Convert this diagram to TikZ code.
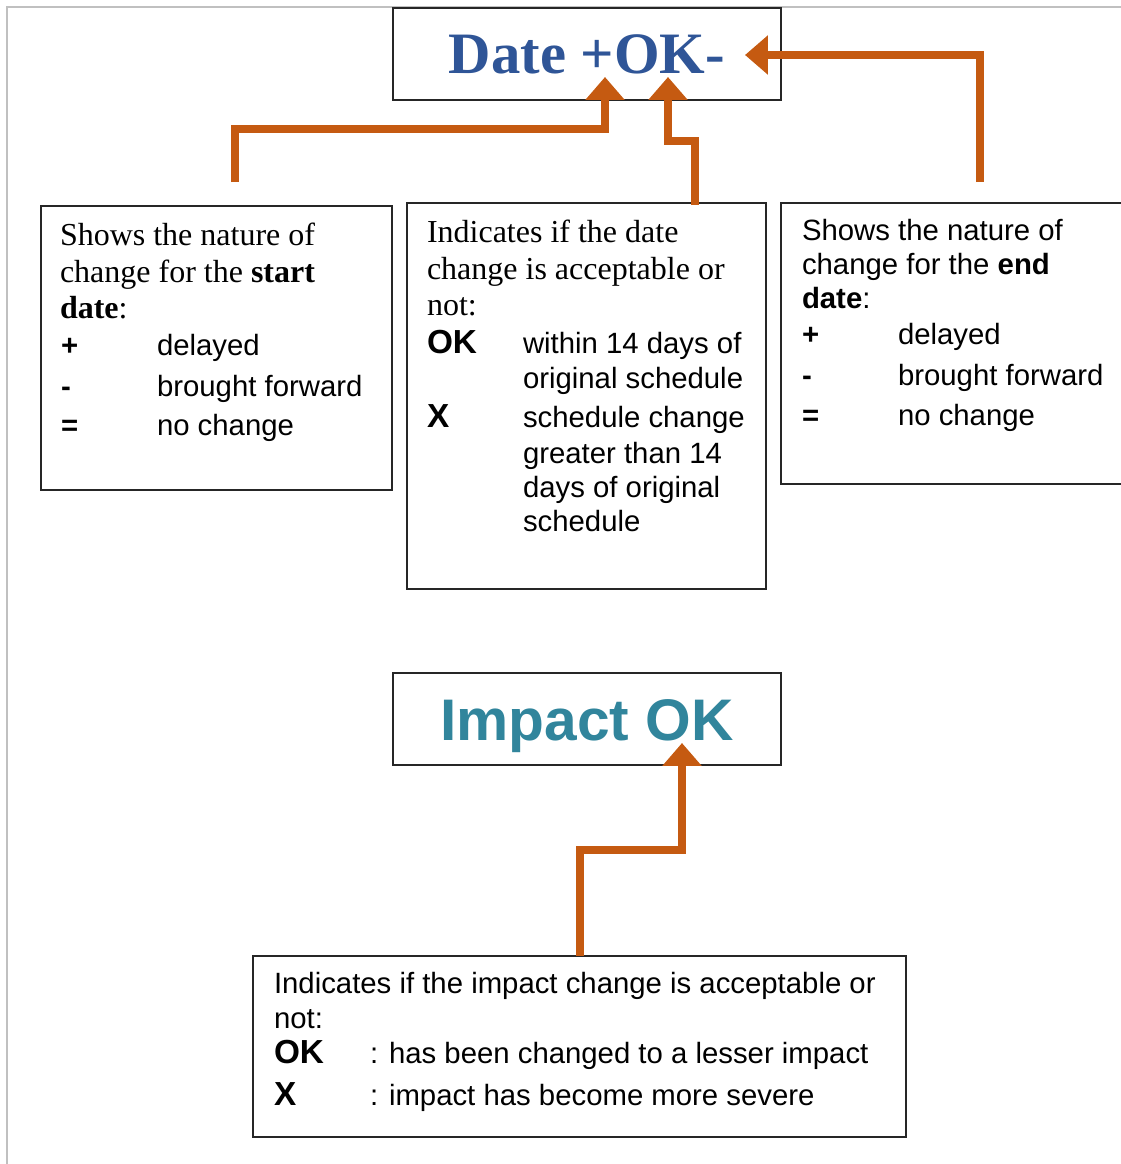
\documentclass[tikz,border=0pt]{standalone}
\usepackage{fontspec}
\setmainfont{Liberation Serif}
\setsansfont{Liberation Sans}
\usetikzlibrary{arrows.meta,fit}
\definecolor{c2f5597}{RGB}{47,85,151}
\definecolor{c31859c}{RGB}{49,133,156}
\definecolor{cc55a11}{RGB}{197,90,17}
\definecolor{cc0c0c0}{RGB}{192,192,192}
\newcommand{\tabkey}[1]{\makebox[36pt][l]{\textbf{#1}}}
\newcommand{\tabmark}[1]{\makebox[36pt][l]{\fontsize{12.5}{14}\selectfont\textbf{#1}}}

\begin{document}
\begin{tikzpicture}[y=-0.375pt, x=0.375pt, inner sep=0pt, outer sep=0pt,
  box/.style={draw=black!85, line width=0.5pt},
  serif/.style={anchor=base west, font=\fontsize{12}{14}\selectfont\rmfamily},
  sans/.style={anchor=base west, font=\fontsize{11}{13}\selectfont\sffamily},
  conn/.style={draw=cc55a11, line width=3pt, -{Triangle[length=8.6pt, width=14.25pt]}}]
\useasboundingbox (0,0) rectangle (1121,1164);
\draw[cc0c0c0, line width=0.75pt] (7,1164) -- (7,7) -- (1121,7);

% boxes
\node[box, fit={(393,8) (781,100)}] (datebox) {};
\node[box, fit={(41,206) (392,490)}] (startbox) {};
\node[box, fit={(407,203) (766,589)}] (okbox) {};
\node[box, fit={(781,203) (1131,484)}] (endbox) {};
\node[box, fit={(393,673) (781,765)}] (impactbox) {};
\node[box, fit={(253,956) (906,1137)}] (notebox) {};

% headings
\node[anchor=base, text=c2f5597, font=\fontsize{22}{26}\selectfont\rmfamily\bfseries]
  (datelabel) at (587,73) {Date +OK-};
\node[anchor=base, text=c31859c, font=\fontsize{22}{26}\selectfont\sffamily\bfseries]
  (impactlabel) at (587,740) {Impact OK};

% start date
\node[serif] (start1) at (60,245) {Shows the nature of};
\node[serif] (start2) at (60,282) {change for the \textbf{start}};
\node[serif] (start3) at (60,318) {\textbf{date}:};
\node[sans] (start4) at (61,355) {\tabkey{+}delayed};
\node[sans] (start5) at (61,396) {\tabkey{-}brought forward};
\node[sans] (start6) at (61,435) {\tabkey{=}no change};

% date ok
\node[serif] (ok1) at (427,242) {Indicates if the date};
\node[serif] (ok2) at (427,279) {change is acceptable or};
\node[serif] (ok3) at (427,315) {not:};
\node[sans] (ok4) at (427,353) {\tabmark{OK}within 14 days of};
\node[sans] (ok5) at (523,388) {original schedule};
\node[sans] (ok6) at (427,427) {\tabmark{X}schedule change};
\node[sans] (ok7) at (523,463) {greater than 14};
\node[sans] (ok8) at (523,497) {days of original};
\node[sans] (ok9) at (523,531) {schedule};

% end date
\node[sans] (end1) at (802,240) {Shows the nature of};
\node[sans] (end2) at (802,274) {change for the \textbf{end}};
\node[sans] (end3) at (802,308) {\textbf{date}:};
\node[sans] (end4) at (802,344) {\tabkey{+}delayed};
\node[sans] (end5) at (802,385) {\tabkey{-}brought forward};
\node[sans] (end6) at (802,425) {\tabkey{=}no change};

% impact
\node[sans] (note1) at (274,993) {Indicates if the impact change is acceptable or};
\node[sans] (note2) at (274,1028) {not:};
\node[sans] (note3) at (274,1063) {\tabmark{OK}: has been changed to a lesser impact};
\node[sans] (note4) at (274,1105) {\tabmark{X}: impact has become more severe};

% connectors
\coordinate (startfoot) at (235,182);
\coordinate (starttip) at (605,77);
\coordinate (okfoot) at (695,205);
\coordinate (oktip) at (668,77);
\coordinate (endfoot) at (980,182);
\coordinate (endtip) at (745,55);
\coordinate (notefoot) at (580,956);
\coordinate (impacttip) at (682,743);
\draw[conn] (startfoot) -- ++(0,-53) -| (starttip);
\draw[conn] (okfoot) -- ++(0,-64) -| (oktip);
\draw[conn] (endfoot) |- (endtip);
\draw[conn] (notefoot) -- ++(0,-106) -| (impacttip);
\end{tikzpicture}
\end{document}
